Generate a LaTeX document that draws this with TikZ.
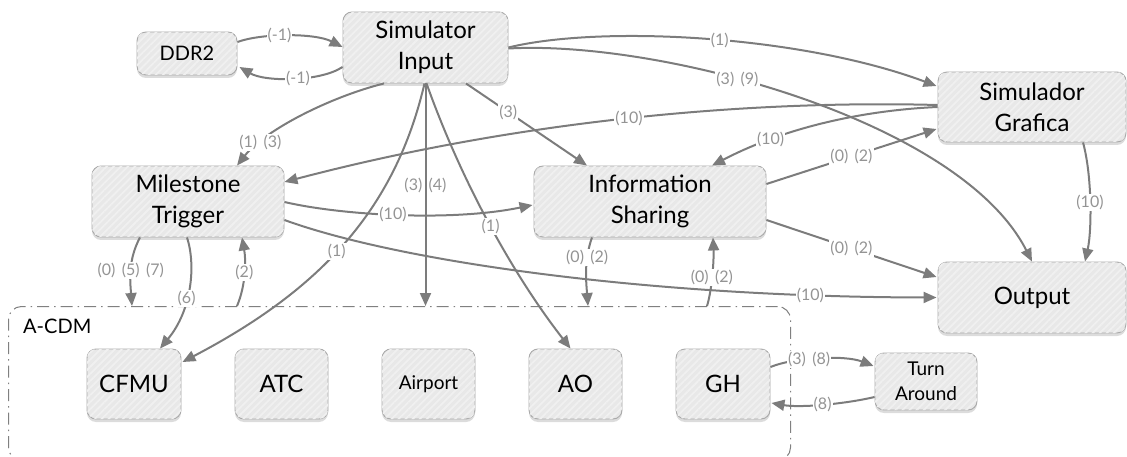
\documentclass[tikz,border=0pt]{standalone}
\usepackage{fontspec}
\setmainfont{Lato}
\usetikzlibrary{arrows.meta,shadows,patterns.meta,calc}
\definecolor{edgegray}{HTML}{7C7C7C}
\definecolor{lblgray}{HTML}{949494}
\definecolor{boxborder}{HTML}{A9A9A9}
\definecolor{boxfill}{HTML}{E8E8E8}
\definecolor{boxstripe}{HTML}{F0F0F0}
\definecolor{framegray}{HTML}{808080}
\newcommand\fbig{\fontsize{24}{31}\selectfont}
\newcommand\fmid{\fontsize{20}{24}\selectfont}
\newcommand\fsml{\fontsize{19}{25}\selectfont}
\newcommand\flbl{\fontsize{16}{16}\selectfont\spaceskip=0.4em\relax}
\begin{document}
\begin{tikzpicture}[x=1pt,y=-1pt,
  box/.style={draw=boxborder, line width=0.9pt, rounded corners=9pt, fill=boxfill,
    drop shadow={shadow xshift=0pt, shadow yshift=-3pt, opacity=0.28},
    postaction={pattern={Lines[angle=45,distance=5pt,line width=1.8pt]}, pattern color=boxstripe},
    align=center, inner sep=0pt, font=\fbig, text=black},
  conn/.style={draw=edgegray, line width=2pt, -{Triangle[length=13pt,width=11pt]}},
  lbl/.style={fill=white, inner sep=1pt, text=lblgray, font=\flbl},
  lblnf/.style={inner sep=1pt, text=lblgray, font=\flbl},
  frame/.style={draw=framegray, line width=1pt, dash pattern=on 12pt off 5pt on 1.5pt off 5pt, rounded corners=13pt}
]
\path[use as bounding box] (0,0) rectangle (1127,457);
\begin{scope}
\clip (0,0) rectangle (1127,457);
\node[frame, minimum width=782pt, minimum height=154pt, anchor=north west, inner sep=0pt] (acdm) at (8,306) {};
\end{scope}
\node[anchor=base west, font=\fmid, inner sep=0pt] (acdmlbl) at (23,333) {A-CDM};

% nodes
\node[box, minimum width=100pt, minimum height=43pt, font=\fmid] (ddr) at (187,53.5) {DDR2};
\node[box, minimum width=165pt, minimum height=71pt] (simin) at (425.5,47.5) {Simulator\\Input};
\node[box, minimum width=188pt, minimum height=70pt] (simgr) at (1032,107) {Simulador\\Grafica};
\node[box, minimum width=192pt, minimum height=71pt] (mile) at (188,201.5) {Milestone\\Trigger};
\node[box, minimum width=232pt, minimum height=71pt] (info) at (650,201.5) {Information\\Sharing};
\node[box, minimum width=188pt, minimum height=71pt] (out) at (1032,297.5) {Output};
\node[box, minimum width=94pt, minimum height=70pt] (cfmu) at (134,384) {CFMU};
\node[box, minimum width=93pt, minimum height=70pt] (atc) at (281.5,384) {ATC};
\node[box, minimum width=93pt, minimum height=70pt, font=\fsml] (airport) at (428.5,384) {Airport};
\node[box, minimum width=93pt, minimum height=70pt] (ao) at (575.5,384) {AO};
\node[box, minimum width=94pt, minimum height=70pt] (gh) at (723,384) {GH};
\node[box, minimum width=102pt, minimum height=57pt, font=\fsml] (turn) at (926,381.5) {Turn\\Around};

% connectors
\draw[conn] ($(ddr.east)+(0,-11.5)$) .. controls (262,33) and (315,33) .. ($(simin.west)+(0,-0.5)$) node[lbl,pos=0.42]{(-1)};
\draw[conn] ($(simin.west)+(0,19.5)$) .. controls (320,82) and (265,82) .. ($(ddr.east)+(2,13.5)$) node[lbl,pos=0.45]{(-1)};
\draw[conn] ($(simin.south)+(-41.5,0)$) .. controls (330,97) and (265,130) .. ($(mile.north)+(49,0)$) node[lbl,pos=0.78]{(1) (3)};
\draw[conn] (simin.east) .. controls (600,25) and (800,35) .. ($(simgr.west)+(-1,-21)$) node[lbl,pos=0.53]{(1)};
\draw[conn] ($(simin.east)+(0,1)$) .. controls (660,40) and (960,120) .. (out.north) node[lbl,pos=0.4]{(3) (9)};
\draw[conn] ($(simin.south)+(40.5,0)$) -- ($(info.north)+(-63,0)$) node[lbl,pos=0.35]{(3)};
\draw[conn] (simin.south) -- ($(acdm.north west)+(417.5,0)$) node[lblnf,pos=0.46]{(3) (4)};
\draw[conn] ($(simin.south)+(-1,0)$) .. controls (395,210) and (320,290) .. ($(cfmu.east)+(1,-22)$) node[lbl,pos=0.53]{(1)};
\draw[conn] ($(simin.south)+(1,0)$) .. controls (462,183) and (514,276) .. ($(ao.north)+(-5,0)$) node[lbl,pos=0.5]{(1)};
\draw[conn] ($(simgr.west)+(0,-2)$) .. controls (750,100) and (520,120) .. ($(mile.east)+(0,-19.5)$) node[lbl,pos=0.5]{(10)};
\draw[conn] (simgr.west) .. controls (870,110) and (790,125) .. ($(info.north)+(62,0)$) node[lbl,pos=0.75]{(10)};
\draw[conn] ($(info.east)+(0,-17.5)$) -- ($(simgr.west)+(-1,22)$) node[lbl,pos=0.5]{(0) (2)};
\draw[conn] ($(mile.east)+(0,0.5)$) .. controls (340,215) and (450,222) .. ($(info.west)+(-1,3.5)$) node[lbl,pos=0.48]{(10)};
\draw[conn] ($(mile.east)+(0,18.5)$) .. controls (400,262) and (650,297) .. ($(out.west)+(-1,0)$) node[lbl,pos=0.85]{(10)};
\draw[conn] ($(info.east)+(0,18.5)$) -- ($(out.west)+(-1,-20.5)$) node[lbl,pos=0.5]{(0) (2)};
\draw[conn] ($(simgr.south)+(51,0)$) .. controls (1092,175) and (1092,230) .. ($(out.north)+(53,0)$) node[lbl,pos=0.5]{(10)};
\draw[conn] ($(mile.south)+(-48,0)$) .. controls (128,260) and (130,280) .. ($(acdm.north west)+(124,0)$) node[lbl,pos=0.5]{(0) (5) (7)};
\draw[conn] ($(mile.south)+(-1,0)$) .. controls (196,265) and (192,310) .. ($(cfmu.north)+(26,0)$) node[lbl,pos=0.58]{(6)};
\draw[conn] ($(acdm.north west)+(229,0)$) .. controls (246,285) and (246,260) .. ($(mile.south)+(54,0)$) node[lbl,pos=0.5]{(2)};
\draw[conn] ($(info.south)+(-58,0)$) .. controls (584,260) and (586,280) .. ($(acdm.north west)+(580,0)$) node[lbl,pos=0.3]{(0) (2)};
\draw[conn] ($(acdm.north west)+(699,0)$) .. controls (712,290) and (714,260) .. ($(info.south)+(63,0)$) node[lbl,pos=0.45]{(0) (2)};
\draw[conn] ($(gh.east)+(0,-17)$) .. controls (795,357) and (845,355) .. ($(turn.west)+(-1,-15.5)$) node[lbl,pos=0.4]{(3) (8)};
\draw[conn] ($(turn.west)+(0,15.5)$) .. controls (845,404) and (800,408) .. ($(gh.east)+(1,19)$) node[lbl,pos=0.5]{(8)};
\end{tikzpicture}
\end{document}
